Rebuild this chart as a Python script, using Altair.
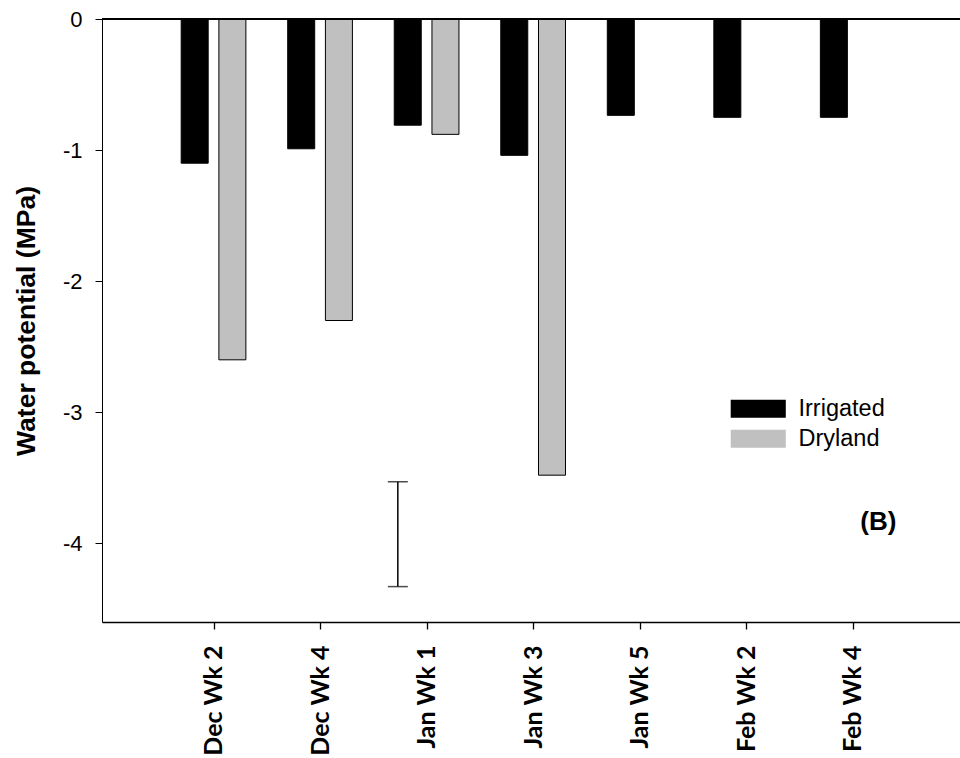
import altair as alt
import pandas as pd

categories = ["Dec Wk 2", "Dec Wk 4", "Jan Wk 1", "Jan Wk 3", "Jan Wk 5", "Feb Wk 2", "Feb Wk 4"]
irrigated = [-1.10, -0.99, -0.81, -1.04, -0.735, -0.75, -0.75]
dryland = [-2.60, -2.30, -0.88, -3.48, None, None, None]
series_names = ["Irrigated", "Dryland"]
series_colors = ["#000000", "#c0c0c0"]
y_ticks = [0, -1, -2, -3, -4]
errbar_x = [2.73]
errbar_low = [-4.33]
errbar_high = [-3.53]
panel_label = ["(B)"]
panel_label_x = [7.24]
panel_label_y = [-3.84]

group_offset = {"Irrigated": -0.177, "Dryland": 0.177}

rows = []
for i, c in enumerate(categories):
    for s, vals in zip(series_names, [irrigated, dryland]):
        v = vals[i]
        if v is None:
            continue
        rows.append({"category": c, "series": s, "pos": i + 1 + group_offset[s], "value": v})
df = pd.DataFrame(rows)
err_df = pd.DataFrame({"x": errbar_x, "low": errbar_low, "high": errbar_high})
lab_df = pd.DataFrame({"x": panel_label_x, "y": panel_label_y, "t": panel_label})
zero_df = pd.DataFrame({"y": [0]})

label_list = "[" + ",".join("'" + c + "'" for c in categories) + "]"

x_scale = alt.Scale(domain=[0, 7.96], nice=False, zero=False)
y_scale = alt.Scale(domain=[-4.6, 0], nice=False, zero=False)

x_axis = alt.Axis(
    values=list(range(1, len(categories) + 1)),
    labelExpr=label_list + "[datum.value - 1]",
    labelAngle=-90, labelAlign="right", labelBaseline="middle",
    labelFont="Lato", labelFontWeight="bold", labelFontSize=25,
    labelPadding=16, tickSize=7, tickWidth=1.3, domainWidth=1.3,
    labelFlush=False, labelOverlap=False, labelBound=False,
    grid=False, title=None,
)
y_axis = alt.Axis(
    values=y_ticks, labelExpr="'' + datum.value",
    labelFont="Liberation Sans", labelFontSize=22, labelPadding=13,
    tickSize=7, tickWidth=1, domainWidth=1, grid=False,
    title="Water potential (MPa)", titleFont="Liberation Sans",
    titleFontSize=26.5, titleFontWeight="bold", titlePadding=22,
)

bars = alt.Chart(df).mark_bar(orient="vertical", size=27, stroke="black", strokeWidth=1).encode(
    x=alt.X("pos:Q", scale=x_scale, axis=x_axis),
    y=alt.Y("value:Q", scale=y_scale, axis=y_axis),
    y2=alt.datum(0),
    color=alt.Color(
        "series:N",
        scale=alt.Scale(domain=series_names, range=series_colors),
        legend=alt.Legend(
            title=None, orient="none", legendX=644.5, legendY=378,
            symbolType="M-3.06,-1H3.06V1H-3.06Z", symbolSize=324,
            symbolStrokeWidth=0, symbolOpacity=1,
            labelFont="Liberation Sans", labelFontSize=23.5, labelOffset=28.5,
            rowPadding=5, padding=0,
        ),
    ),
)

zero_line = alt.Chart(zero_df).mark_rule(color="black", strokeWidth=2).encode(
    y=alt.Y("y:Q", scale=y_scale)
)

err_rule = alt.Chart(err_df).mark_rule(color="black", strokeWidth=1.5).encode(
    x=alt.X("x:Q", scale=x_scale), y=alt.Y("low:Q", scale=y_scale), y2="high:Q"
)
cap_low = alt.Chart(err_df).mark_tick(orient="horizontal", color="black", size=20, thickness=1.5).encode(
    x=alt.X("x:Q", scale=x_scale), y=alt.Y("low:Q", scale=y_scale)
)
cap_high = alt.Chart(err_df).mark_tick(orient="horizontal", color="black", size=20, thickness=1.5).encode(
    x=alt.X("x:Q", scale=x_scale), y=alt.Y("high:Q", scale=y_scale)
)

label = alt.Chart(lab_df).mark_text(
    font="Liberation Sans", fontWeight="bold", fontSize=26, color="black",
    align="center", baseline="middle"
).encode(
    x=alt.X("x:Q", scale=x_scale), y=alt.Y("y:Q", scale=y_scale), text="t:N"
)

chart = alt.layer(bars, zero_line, err_rule, cap_low, cap_high, label).properties(
    width=858, height=603,
    autosize=alt.AutoSizeParams(type="none"),
    padding={"left": 102, "top": 19, "right": 0, "bottom": 136},
    background="white",
).configure_view(stroke=None).configure_axis(
    domainColor="black", tickColor="black", labelColor="black", titleColor="black"
)

chart.save("out.html", embed_options={"renderer": "svg", "actions": False})
